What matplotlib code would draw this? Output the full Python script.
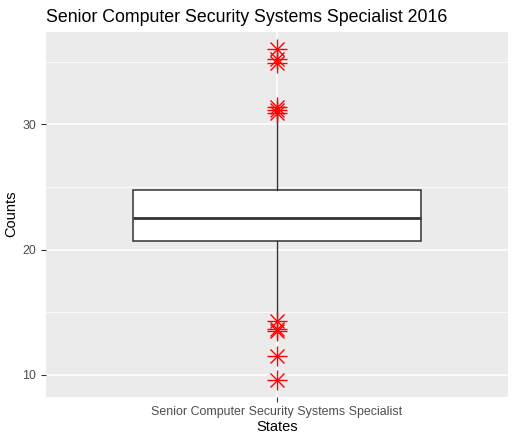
import matplotlib
matplotlib.use('Agg')
import matplotlib.pyplot as plt

plt.rcParams['font.family'] = ['Liberation Sans', 'DejaVu Sans']

# data
category = 'Senior Computer Security Systems Specialist'
q1, med, q3 = 20.66, 22.53, 24.72
whisker_lo, whisker_hi = 14.6, 30.8
outliers = [36.0, 35.2, 34.85, 31.4, 31.15, 30.9,
            14.26, 13.65, 13.54, 11.5, 9.6]
y_ticks = [10, 20, 30]

fig = plt.figure(figsize=(5.16, 4.42), dpi=100)
ax = fig.add_axes([0.0891, 0.1025, 0.8949, 0.8258])
ax.set_facecolor('#EBEBEB')

stats = [dict(med=med, q1=q1, q3=q3, whislo=whisker_lo, whishi=whisker_hi,
              fliers=[], label=category)]
ax.bxp(stats, positions=[1], widths=0.75, patch_artist=True, showcaps=False,
       boxprops=dict(facecolor='white', edgecolor='#333333', linewidth=1.1),
       medianprops=dict(color='#333333', linewidth=2.0),
       whiskerprops=dict(color='#333333', linewidth=1.0), zorder=3)

xs = [1] * len(outliers)
ax.plot(xs, outliers, linestyle='none', marker='+', markersize=14,
        markeredgewidth=1.0, color='red', zorder=4)
ax.plot(xs, outliers, linestyle='none', marker='x', markersize=10,
        markeredgewidth=1.0, color='red', zorder=4)

ax.set_xlim(0.4, 1.6)
ax.set_ylim(8.26, 37.38)
ax.set_yticks(y_ticks)
ax.set_yticks([15, 25, 35], minor=True)
ax.set_xticks([1])
ax.set_xticklabels([category])

ax.grid(which='major', color='white', linewidth=1.1)
ax.grid(which='minor', axis='y', color='white', linewidth=0.55)
ax.set_axisbelow(True)
for s in ax.spines.values():
    s.set_visible(False)
ax.tick_params(which='major', colors='#333333', length=3.5, width=0.8,
               labelsize=8.9, labelcolor='#4D4D4D')
ax.tick_params(which='minor', length=0)

ax.set_xlabel('States', fontsize=10.5, labelpad=1, color='black')
ax.set_ylabel('Counts', fontsize=10.5, labelpad=3, color='black')
ax.set_title('Senior Computer Security Systems Specialist 2016', fontsize=12.8,
             loc='left', pad=7, color='black')

fig.savefig('out.png', dpi=100)
